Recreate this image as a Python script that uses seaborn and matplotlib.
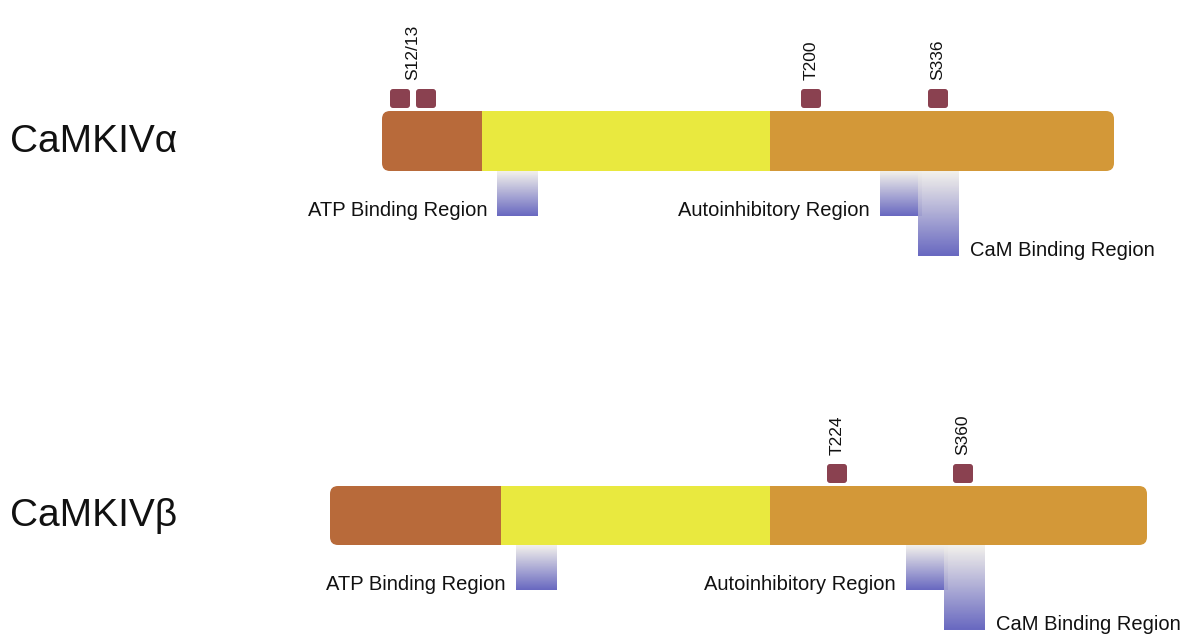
import numpy as np
import matplotlib
matplotlib.use("Agg")
import matplotlib.pyplot as plt
import seaborn as sns
from matplotlib.patches import FancyBboxPatch, Rectangle
from matplotlib.colors import LinearSegmentedColormap

sns.set_theme(style="white")
plt.rcParams['font.family'] = ['Liberation Sans', 'DejaVu Sans']

# isoforms and their domain boundaries (drawing units along the protein axis)
isoforms = ["CaMKIVα", "CaMKIVβ"]
bar_top = [111, 486]
bar_height = [60, 59]
domain_edges = [[382, 482, 770, 1114],
                [330, 501, 770, 1147]]

# phosphorylation sites
site_squares = [[400, 426, 811, 938],
                [837, 963]]
site_labels = [["S12/13", "T200", "S336"],
               ["T224", "S360"]]
site_label_x = [[413, 811, 938],
                [837, 963]]

# functional regions (start, end)
region_names = ["ATP Binding Region", "Autoinhibitory Region", "CaM Binding Region"]
region_spans = [[(497, 538), (880, 922), (918, 959)],
                [(516, 557), (906, 948), (944, 985)]]
region_depth = [45, 45, 85]

domain_colors = ["#b86a3a", "#e9e93f", "#d39838"]
site_color = "#8a4150"
grad = LinearSegmentedColormap.from_list("reg", ["#f2f0ea", "#5b5bbb"])

fig = plt.figure(figsize=(11.94, 6.34), dpi=100)
ax = fig.add_axes([0, 0, 1, 1])
ax.set_xlim(0, 1194)
ax.set_ylim(634, 0)
ax.axis("off")

gradient = np.linspace(0, 1, 100).reshape(-1, 1)

for i, name in enumerate(isoforms):
    top = bar_top[i]
    h = bar_height[i]
    e = domain_edges[i]
    # rounded ends
    ax.add_patch(FancyBboxPatch((e[0], top), e[1] - e[0] + 10, h,
                                boxstyle="round,pad=0,rounding_size=8",
                                fc=domain_colors[0], ec="none", zorder=2))
    ax.add_patch(FancyBboxPatch((e[2] - 10, top), e[3] - e[2] + 10, h,
                                boxstyle="round,pad=0,rounding_size=8",
                                fc=domain_colors[2], ec="none", zorder=2))
    ax.add_patch(Rectangle((e[1], top), e[2] - e[1], h,
                           fc=domain_colors[1], ec="none", zorder=3))
    ax.add_patch(Rectangle((e[2], top), 12, h,
                           fc=domain_colors[2], ec="none", zorder=3))

    ax.text(10, top + h / 2 + 1, name, fontsize=28, ha="left", va="center",
            color="#111111")

    # phospho sites
    for x in site_squares[i]:
        ax.add_patch(FancyBboxPatch((x - 10, top - 22), 20, 19,
                                    boxstyle="round,pad=0,rounding_size=3",
                                    fc=site_color, ec="none", zorder=3))
    for lab, x in zip(site_labels[i], site_label_x[i]):
        ax.text(x, top - 31, lab, rotation=90, fontsize=12.5, ha="center",
                va="bottom", color="#111111")

    # regions
    bottom = top + h
    for j, (s, t) in enumerate(region_spans[i]):
        d = region_depth[j]
        ax.imshow(gradient, cmap=grad, aspect="auto",
                  extent=(s, t, bottom + d, bottom), alpha=0.92,
                  zorder=4 + j, interpolation="bicubic")
        if j < 2:
            ax.text(s - 10, bottom + d - 6, region_names[j], fontsize=14.5,
                    ha="right", va="center", color="#111111")
        else:
            ax.text(t + 11, bottom + d - 5, region_names[j], fontsize=14.5,
                    ha="left", va="center", color="#111111")

ax.set_xlim(0, 1194)
ax.set_ylim(634, 0)
fig.savefig("out.png", dpi=100)
